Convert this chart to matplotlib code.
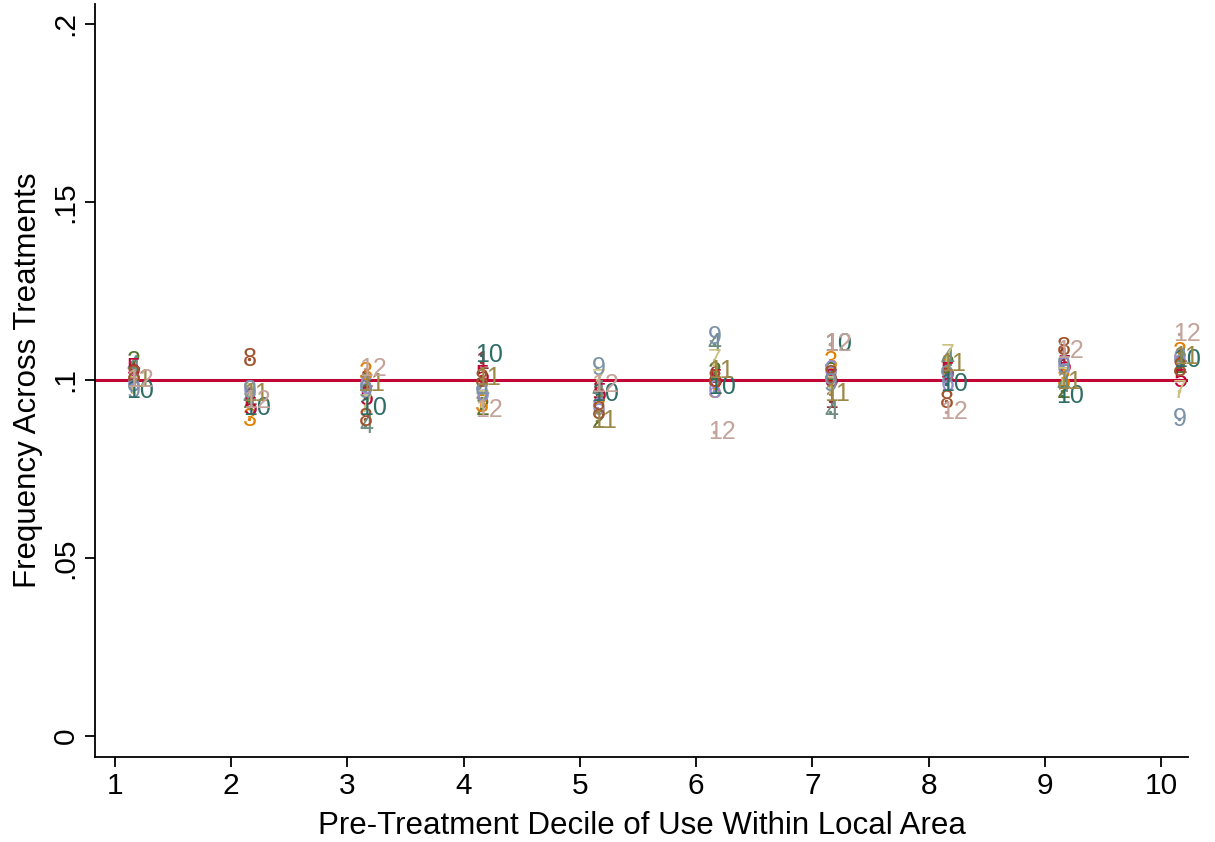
import numpy as np
import matplotlib
matplotlib.use('Agg')
import matplotlib.pyplot as plt

plt.rcParams['font.family'] = ['Liberation Sans', 'DejaVu Sans']

# deciles and treatment labels
deciles = np.arange(1, 11)
treatments = list(range(1, 13))

# frequency for each treatment (rows) across deciles 1..10 (columns)
t1 = [0.102, 0.095, 0.100, 0.105, 0.097, 0.101, 0.094, 0.102, 0.106, 0.104]
t2 = [0.105, 0.094, 0.099, 0.092, 0.0885, 0.102, 0.102, 0.104, 0.097, 0.104]
t3 = [0.101, 0.089, 0.102, 0.093, 0.095, 0.097, 0.105, 0.103, 0.100, 0.1075]
t4 = [0.104, 0.095, 0.087, 0.097, 0.097, 0.110, 0.091, 0.106, 0.0985, 0.106]
t5 = [0.103, 0.092, 0.095, 0.101, 0.096, 0.100, 0.100, 0.102, 0.104, 0.100]
t6 = [0.099, 0.097, 0.098, 0.096, 0.092, 0.097, 0.1025, 0.099, 0.1035, 0.106]
t7 = [0.098, 0.096, 0.093, 0.094, 0.100, 0.1055, 0.098, 0.107, 0.1005, 0.097]
t8 = [0.101, 0.106, 0.089, 0.100, 0.091, 0.100, 0.101, 0.094, 0.109, 0.103]
t9 = [0.097, 0.097, 0.097, 0.096, 0.1035, 0.112, 0.099, 0.101, 0.104, 0.089]
t10 = [0.097, 0.092, 0.092, 0.107, 0.096, 0.098, 0.110, 0.099, 0.0955, 0.1055]
t11 = [0.100, 0.096, 0.099, 0.1005, 0.0885, 0.1025, 0.096, 0.1045, 0.0995, 0.1065]
t12 = [0.100, 0.094, 0.103, 0.0915, 0.0985, 0.0855, 0.110, 0.091, 0.108, 0.113]
series = [t1, t2, t3, t4, t5, t6, t7, t8, t9, t10, t11, t12]

ref_line = 0.1

# stata s2color style palette (p2..p13)
colors = ['#90353b', '#55752f', '#e37e00', '#6e8e84', '#c10534', '#938dd2',
          '#cac27e', '#a0522d', '#7b92a8', '#2d6d66', '#9c8847', '#c4a39a']

fig = plt.figure(figsize=(12.15, 8.42), dpi=100)
ax = fig.add_axes([95/1215, 85/842, (1188-95)/1215, (757-4)/842])

ax.axhline(ref_line, color='#c10534', lw=2.2, zorder=1)

for k, vals in zip(treatments, series):
    c = colors[k-1]
    ax.plot(deciles + 0.15, vals, 'o', ms=1.5, color=c, zorder=2)
    for d, v in zip(deciles, vals):
        ax.text(d + 0.1, v, str(k), color=c, fontsize=18,
                ha='left', va='center', zorder=3)

ax.set_xlim(0.829, 10.23)
ax.set_ylim(-0.0059, 0.2056)
ax.set_xticks(deciles)
ax.set_yticks([0, 0.05, 0.1, 0.15, 0.2])
ax.set_yticklabels(['0', '.05', '.1', '.15', '.2'], rotation=90, va='center')
ax.tick_params(axis='both', labelsize=21.5, length=7, width=1.3, pad=4)
ax.spines['top'].set_visible(False)
ax.spines['right'].set_visible(False)
ax.spines['left'].set_linewidth(1.3)
ax.spines['bottom'].set_linewidth(1.3)
ax.set_xlabel('Pre-Treatment Decile of Use Within Local Area', fontsize=22.5, labelpad=8)
ax.set_ylabel('Frequency Across Treatments', fontsize=22.5, labelpad=6)

fig.savefig('out.png', dpi=100)
